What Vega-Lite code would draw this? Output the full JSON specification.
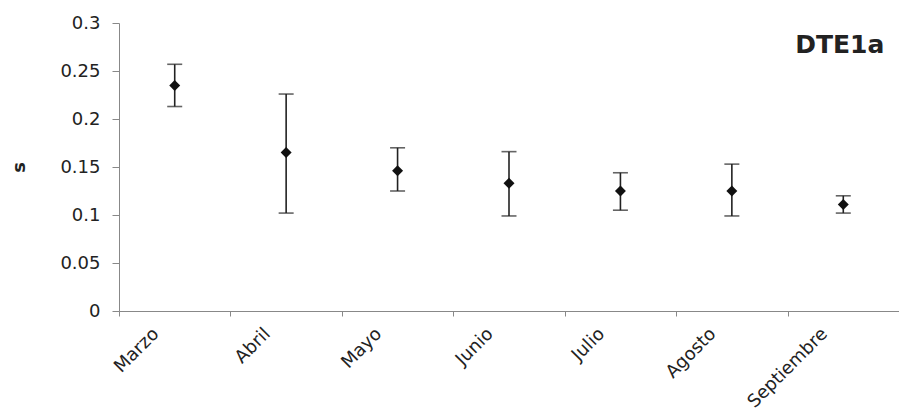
{
  "$schema": "https://vega.github.io/schema/vega-lite/v6.json",
  "width": 780,
  "height": 288,
  "autosize": {"type": "none"},
  "padding": {"left": 119, "top": 23, "right": 0, "bottom": 101},
  "background": "white",
  "config": {
    "view": {"stroke": null},
    "font": "DejaVu Sans"
  },
  "data": {
    "values": [
      {"mes": "Marzo", "media": 0.235, "inf": 0.213, "sup": 0.257},
      {"mes": "Abril", "media": 0.165, "inf": 0.102, "sup": 0.226},
      {"mes": "Mayo", "media": 0.146, "inf": 0.125, "sup": 0.170},
      {"mes": "Junio", "media": 0.133, "inf": 0.099, "sup": 0.166},
      {"mes": "Julio", "media": 0.125, "inf": 0.105, "sup": 0.144},
      {"mes": "Agosto", "media": 0.125, "inf": 0.099, "sup": 0.153},
      {"mes": "Septiembre", "media": 0.111, "inf": 0.102, "sup": 0.120}
    ]
  },
  "encoding": {
    "x": {
      "field": "mes",
      "type": "nominal",
      "sort": null,
      "scale": {"paddingInner": 0, "paddingOuter": 0},
      "axis": {
        "title": null,
        "tickBand": "extent",
        "labelAngle": -45,
        "labelAlign": "right",
        "labelBaseline": "middle",
        "labelOffset": -19,
        "labelPadding": 15,
        "labelFontSize": 18,
        "labelColor": "#222222",
        "labelFont": "DejaVu Sans",
        "tickSize": 5,
        "tickColor": "#888888",
        "domainColor": "#888888",
        "domainWidth": 1,
        "grid": false
      }
    }
  },
  "layer": [
    {
      "mark": {"type": "rule", "color": "#222222", "strokeWidth": 1.6},
      "encoding": {
        "y": {
          "field": "inf",
          "type": "quantitative",
          "scale": {"domain": [0, 0.3], "nice": false},
          "axis": {
            "title": "s",
            "titleFontSize": 18,
            "titleFontWeight": "bold",
            "titleColor": "#222222",
            "titleFont": "DejaVu Sans",
            "titlePadding": 31,
            "values": [0, 0.05, 0.1, 0.15, 0.2, 0.25, 0.3],
            "format": ".2~f",
            "labelFontSize": 18,
            "labelColor": "#222222",
            "labelFont": "DejaVu Sans",
            "labelPadding": 12,
            "tickSize": 7,
            "tickColor": "#888888",
            "domainColor": "#888888",
            "grid": false
          }
        },
        "y2": {"field": "sup"}
      }
    },
    {
      "mark": {"type": "tick", "color": "#222222", "size": 15, "thickness": 1.6},
      "encoding": {"y": {"field": "sup", "type": "quantitative"}}
    },
    {
      "mark": {"type": "tick", "color": "#222222", "size": 15, "thickness": 1.6},
      "encoding": {"y": {"field": "inf", "type": "quantitative"}}
    },
    {
      "mark": {"type": "point", "shape": "diamond", "filled": true, "color": "#111111", "size": 120, "opacity": 1},
      "encoding": {"y": {"field": "media", "type": "quantitative"}}
    },
    {
      "data": {"values": [{"etiqueta": "DTE1a", "mes": "Septiembre", "pos": 0.2688}]},
      "mark": {"type": "text", "align": "right", "baseline": "alphabetic", "dx": 41, "font": "DejaVu Sans", "fontSize": 25, "fontWeight": "bold", "color": "#222222"},
      "encoding": {
        "text": {"field": "etiqueta"},
        "y": {"field": "pos", "type": "quantitative"}
      }
    }
  ]
}
